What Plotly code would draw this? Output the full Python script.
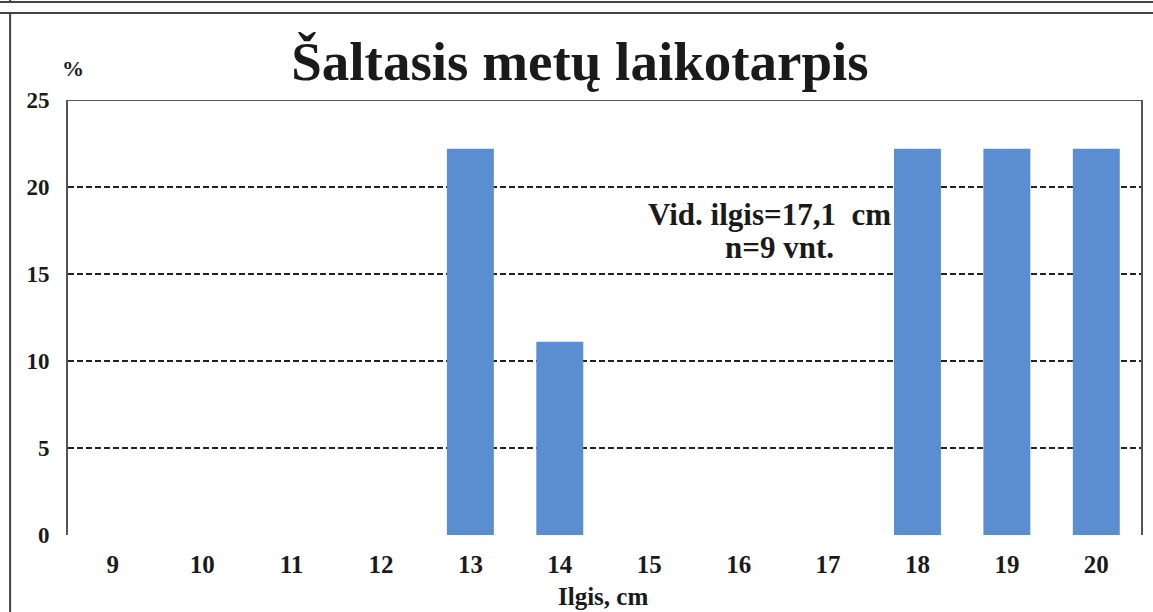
import plotly.graph_objects as go

# Data
lengths = ["9", "10", "11", "12", "13", "14", "15", "16", "17", "18", "19", "20"]
percent = [0, 0, 0, 0, 22.2, 11.1, 0, 0, 0, 22.2, 22.2, 22.2]
y_ticks = [0, 5, 10, 15, 20, 25]

title_text = "Šaltasis metų laikotarpis"
note_lines = ["Vid. ilgis=17,1  cm", "n=9 vnt."]
x_title = "Ilgis, cm"
y_unit = "%"

SERIF = "Liberation Serif, Times New Roman, serif"
BAR = "#5b8ed0"

fig = go.Figure(
    go.Bar(x=lengths, y=percent, marker=dict(color=BAR, line=dict(width=0)))
)

fig.update_layout(
    width=1153, height=612,
    margin=dict(l=68, r=10, t=100, b=77),
    paper_bgcolor="white", plot_bgcolor="white",
    bargap=0.475,
    showlegend=False,
    font=dict(family=SERIF, color="#1a1a1a"),
    title=dict(
        text="<b>" + title_text + "</b>",
        font=dict(family=SERIF, size=55, color="#1a1a1a"),
        x=580 / 1153, xanchor="center", xref="container",
        y=1 - 61 / 612, yanchor="middle", yref="container",
    ),
)

fig.update_xaxes(
    type="category",
    showline=False, showgrid=False, zeroline=False,
    ticks="", ticklabelstandoff=12,
    tickfont=dict(family=SERIF, size=25, color="#1a1a1a", weight="bold"),
)
fig.update_yaxes(
    range=[0, 25], tickvals=y_ticks,
    showline=True, linecolor="#555555", linewidth=2, mirror=True,
    showgrid=True, gridcolor="#222222", gridwidth=1.8, griddash="6px,3px",
    zeroline=False,
    ticks="", ticklabelstandoff=12,
    tickfont=dict(family=SERIF, size=23, color="#1a1a1a", weight="bold"),
)

# line along the top edge (the 25 % gridline)
fig.add_shape(type="line", xref="paper", yref="y",
              x0=0, x1=1, y0=y_ticks[-1], y1=y_ticks[-1],
              line=dict(color="#555555", width=2))

# annotations
fig.add_annotation(
    text="<b>" + note_lines[0] + "</b>", xref="x", yref="y",
    x=7.34, y=18.4, showarrow=False, align="center",
    xanchor="center", yanchor="middle",
    font=dict(family=SERIF, size=31, color="#1a1a1a"),
)
fig.add_annotation(
    text="<b>" + note_lines[1] + "</b>", xref="x", yref="y",
    x=7.46, y=16.55, showarrow=False, align="center",
    xanchor="center", yanchor="middle",
    font=dict(family=SERIF, size=31, color="#1a1a1a"),
)
fig.add_annotation(
    text="<b>" + y_unit + "</b>", xref="paper", yref="paper",
    x=(73 - 68) / 1075, y=1 + (100 - 69) / 435, showarrow=False,
    xanchor="center", yanchor="middle",
    font=dict(family=SERIF, size=22, color="#1a1a1a"),
)
fig.add_annotation(
    text="<b>" + x_title + "</b>", xref="paper", yref="paper",
    x=(604 - 68) / 1075, y=(535 - 596) / 435, showarrow=False,
    xanchor="center", yanchor="middle",
    font=dict(family=SERIF, size=25, color="#1a1a1a"),
)

# outer frame lines (scanned document borders)
frame = dict(color="#444444", width=2)
fig.add_shape(type="line", xref="paper", yref="paper",
              x0=-0.07, x1=1.02, y0=1 + 87 / 435, y1=1 + 87 / 435, line=frame)
fig.add_shape(type="line", xref="paper", yref="paper",
              x0=-0.07, x1=1.02, y0=1 + 98 / 435, y1=1 + 98 / 435, line=frame)
fig.add_shape(type="line", xref="paper", yref="paper",
              x0=(10 - 68) / 1075, x1=(10 - 68) / 1075,
              y0=-0.2, y1=1 + 87 / 435, line=frame)
fig.add_shape(type="line", xref="paper", yref="paper",
              x0=(10 - 68) / 1075, x1=(10 - 68) / 1075,
              y0=1 + 98 / 435, y1=1.26, line=frame)

fig.write_html(
    "out.html",
    config={"displayModeBar": False},
    post_script="document.body.style.margin='0';document.body.style.overflow='hidden';",
)
